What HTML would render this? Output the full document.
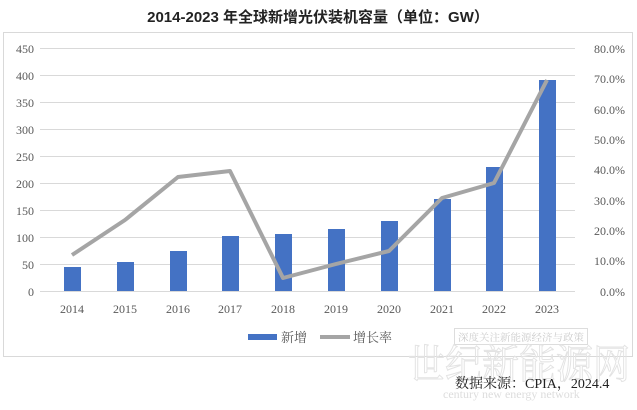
<!DOCTYPE html><html><head><meta charset="utf-8"><style>body{margin:0;background:#fff;width:637px;height:405px;overflow:hidden}svg text{font-family:"Liberation Serif","Noto Serif CJK SC",serif}</style></head><body>
<svg width="637" height="405" xmlns="http://www.w3.org/2000/svg">
<text x="318" y="22" text-anchor="middle" font-size="15" font-weight="bold" style="font-family:'Liberation Sans','Noto Sans CJK SC',sans-serif" fill="#222">2014-2023 年全球新增光伏装机容量（单位：GW）</text>
<rect x="3.5" y="32.5" width="629" height="324" fill="none" stroke="#d9d9d9"/>
<g stroke="#d9d9d9" stroke-width="1">
<line x1="40" x2="575" y1="48.5" y2="48.5"/><line x1="40" x2="575" y1="75.5" y2="75.5"/><line x1="40" x2="575" y1="102.5" y2="102.5"/><line x1="40" x2="575" y1="129.5" y2="129.5"/><line x1="40" x2="575" y1="156.5" y2="156.5"/><line x1="40" x2="575" y1="183.5" y2="183.5"/><line x1="40" x2="575" y1="210.5" y2="210.5"/><line x1="40" x2="575" y1="237.5" y2="237.5"/><line x1="40" x2="575" y1="264.5" y2="264.5"/><line x1="40" x2="575" y1="291.5" y2="291.5"/>
</g>
<g font-size="12" fill="#595959" text-anchor="end">
<text x="34" y="53">450</text><text x="34" y="80">400</text><text x="34" y="107">350</text><text x="34" y="134">300</text><text x="34" y="161">250</text><text x="34" y="188">200</text><text x="34" y="215">150</text><text x="34" y="242">100</text><text x="34" y="269">50</text><text x="34" y="296">0</text>
</g>
<g font-size="12" fill="#595959" text-anchor="end">
<text x="625" y="53">80.0%</text><text x="625" y="83">70.0%</text><text x="625" y="114">60.0%</text><text x="625" y="144">50.0%</text><text x="625" y="174">40.0%</text><text x="625" y="205">30.0%</text><text x="625" y="235">20.0%</text><text x="625" y="265">10.0%</text><text x="625" y="296">0.0%</text>
</g>
<g fill="#4472c4">
<rect x="64" y="267" width="17" height="24"/><rect x="117" y="262" width="17" height="29"/><rect x="170" y="251" width="17" height="40"/><rect x="222" y="236" width="17" height="55"/><rect x="275" y="234" width="17" height="57"/><rect x="328" y="229" width="17" height="62"/><rect x="381" y="221" width="17" height="70"/><rect x="434" y="199" width="17" height="92"/><rect x="486" y="167" width="17" height="124"/><rect x="539" y="80" width="17" height="211"/>
</g>
<polyline fill="none" stroke="#a5a5a5" stroke-width="4" stroke-linejoin="round" points="72,255 125,220 178,177 230,171 283,278 336,264 389,251 442,198 494,183 547,80"/>
<g font-size="12" fill="#595959" text-anchor="middle">
<text x="72" y="313">2014</text><text x="125" y="313">2015</text><text x="178" y="313">2016</text><text x="230" y="313">2017</text><text x="283" y="313">2018</text><text x="336" y="313">2019</text><text x="389" y="313">2020</text><text x="442" y="313">2021</text><text x="494" y="313">2022</text><text x="547" y="313">2023</text>
</g>
<rect x="248" y="334" width="29" height="6" fill="#4472c4"/>
<text x="281" y="342" font-size="13" fill="#595959">新增</text>
<line x1="320" x2="350" y1="337" y2="337" stroke="#a5a5a5" stroke-width="4"/>
<text x="353" y="342" font-size="13" fill="#595959">增长率</text>
<rect x="454.5" y="328.5" width="133" height="16" fill="none" stroke="#ddd"/>
<text x="458" y="341" font-size="10" fill="#ccc" textLength="126" lengthAdjust="spacingAndGlyphs">深度关注新能源经济与政策</text>
<text x="408" y="378" font-size="40" fill="none" stroke="#e3e3e3" stroke-width="1" textLength="222" lengthAdjust="spacingAndGlyphs">世纪新能源网</text>
<text x="455" y="388" font-size="14" fill="#222">数据来源：CPIA，2024.4</text>
<text x="443" y="398" font-size="12" fill="#ddd">century new energy network</text>
</svg></body></html>
